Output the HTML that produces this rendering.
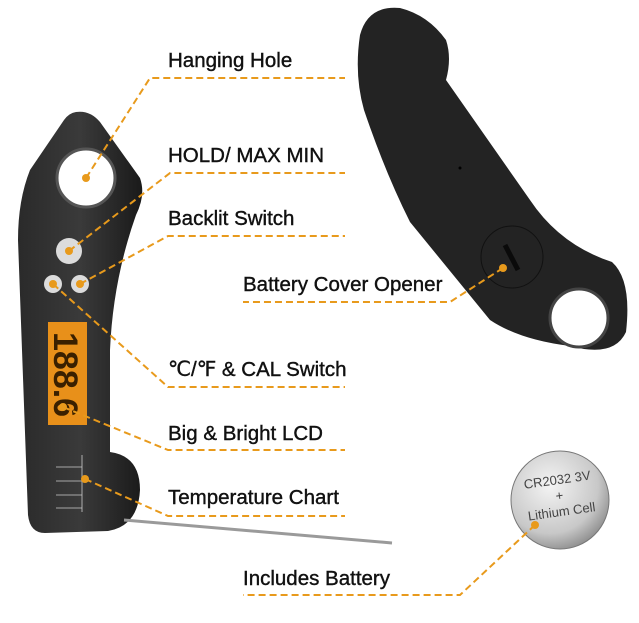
<!DOCTYPE html>
<html><head><meta charset="utf-8"><style>
html,body{margin:0;padding:0;background:#fff;width:639px;height:623px;overflow:hidden}
text{font-family:"Liberation Sans",sans-serif}
</style></head><body>
<svg width="639" height="623" viewBox="0 0 639 623" xmlns="http://www.w3.org/2000/svg">
<defs>
<linearGradient id="bd" x1="0" y1="0" x2="1" y2="0"><stop offset="0" stop-color="#2a2a2a"/><stop offset="0.5" stop-color="#3a3a3a"/><stop offset="1" stop-color="#1a1a1a"/></linearGradient>
<radialGradient id="coin" cx="0.4" cy="0.35" r="0.7"><stop offset="0" stop-color="#f4f4f4"/><stop offset="0.7" stop-color="#c8c8c8"/><stop offset="1" stop-color="#8a8a8a"/></radialGradient>
</defs>
<path d="M360,35 Q368,5 400,8 Q428,15 446,40 Q452,58 446,80 L530,200 Q560,245 612,262 Q632,280 626,332 Q614,358 570,346 Q520,340 490,320 L410,222 Q385,172 364,110 Q354,75 360,35 Z" fill="#232323"/>
<circle cx="579" cy="318" r="29" fill="#fff" stroke="#444" stroke-width="3"/>
<circle cx="512" cy="257" r="31" fill="none" stroke="#111" stroke-width="1"/>
<line x1="505" y1="245" x2="518" y2="270" stroke="#0a0a0a" stroke-width="5"/>
<circle cx="460" cy="168" r="1.5" fill="#000"/>
<path d="M76,112 Q90,110 100,122 L140,178 Q146,195 136,215 Q113,280 110,350 L110,452 Q140,456 140,490 Q138,526 108,531 L45,533 Q30,533 28,515 L18,240 Q18,200 30,170 L64,120 Q69,113 76,112 Z" fill="url(#bd)"/>
<line x1="124" y1="520" x2="392" y2="543" stroke="#9a9a9a" stroke-width="3"/>
<circle cx="86" cy="178" r="29" fill="#fff" stroke="#555" stroke-width="3"/>
<circle cx="69" cy="251" r="13" fill="#dcdcdc"/>
<circle cx="53" cy="284" r="9" fill="#dcdcdc"/>
<circle cx="80" cy="284" r="9" fill="#dcdcdc"/>
<rect x="48" y="322" width="39" height="103" fill="#e8901a"/>
<text x="0" y="0" transform="translate(54,332) rotate(90)" font-size="34" font-weight="bold" fill="#3a2000">188.6</text>
<line x1="82" y1="455" x2="82" y2="512" stroke="#ccc" stroke-width="0.8"/>
<line x1="56" y1="467" x2="82" y2="467" stroke="#ccc" stroke-width="0.8"/>
<line x1="56" y1="481" x2="82" y2="481" stroke="#ccc" stroke-width="0.8"/>
<line x1="56" y1="495" x2="82" y2="495" stroke="#ccc" stroke-width="0.8"/>
<line x1="56" y1="508" x2="82" y2="508" stroke="#ccc" stroke-width="0.8"/>
<circle cx="560" cy="500" r="49" fill="url(#coin)" stroke="#777" stroke-width="1"/>
<g transform="rotate(-8 560 500)" fill="#444" font-size="13">
<text x="560" y="484" text-anchor="middle">CR2032  3V</text>
<text x="560" y="500" text-anchor="middle">+</text>
<text x="560" y="516" text-anchor="middle">Lithium Cell</text>
</g>
<g fill="none" stroke="#e89a1c" stroke-width="2" stroke-dasharray="7,4">
<polyline points="86,178 150,78 345,78"/>
<polyline points="69,251 170,173 345,173"/>
<polyline points="80,284 168,236 345,236"/>
<polyline points="53,284 168,387 345,387"/>
<polyline points="63,407 168,450 345,450"/>
<polyline points="85,479 168,516 345,516"/>
<polyline points="503,268 450,302 243,302"/>
<polyline points="535,525 460,595 243,595"/>
</g>
<g fill="#e89a1c">
<circle cx="86" cy="178" r="4"/><circle cx="69" cy="251" r="4"/><circle cx="80" cy="284" r="4"/>
<circle cx="53" cy="284" r="4"/><circle cx="63" cy="407" r="4"/><circle cx="85" cy="479" r="4"/>
<circle cx="503" cy="268" r="4"/><circle cx="535" cy="525" r="4"/>
</g>
<g font-size="20.5" fill="#111" stroke="#111" stroke-width="0.4">
<text x="168" y="67">Hanging Hole</text>
<text x="168" y="162">HOLD/ MAX MIN</text>
<text x="168" y="225">Backlit Switch</text>
<text x="243" y="291">Battery Cover Opener</text>
<text x="168" y="376">℃/℉ &amp; CAL  Switch</text>
<text x="168" y="440">Big &amp; Bright LCD</text>
<text x="168" y="504">Temperature Chart</text>
<text x="243" y="585">Includes Battery</text>
</g>
</svg>
</body></html>
